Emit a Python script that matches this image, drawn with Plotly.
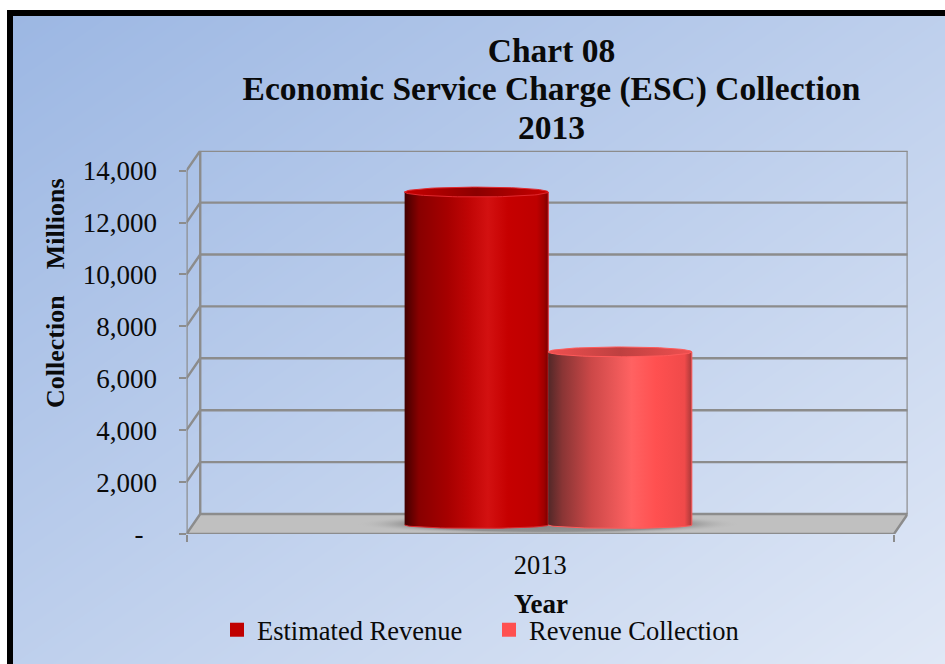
import numpy as np
import plotly.graph_objects as go

# Chart content
years = [2013]
series_names = ["Estimated Revenue", "Revenue Collection"]
estimated_revenue = [12830]
revenue_collection = [6670]
tick_values = [0, 2000, 4000, 6000, 8000, 10000, 12000, 14000]
tick_labels = ["-\u00a0\u00a0", "2,000", "4,000", "6,000", "8,000", "10,000", "12,000", "14,000"]

W, H = 945, 664
SERIF = "Liberation Serif"
GRID = "#8C8C8C"
INK = "#0A0A0A"

def px(x):
    return x / W

def py(y):
    return 1 - y / H

# Plot box: the front plane plus the pseudo-3D depth of the walls
X_LO, X_HI = 2012.5, 2013.5
DEPTH_X = 0.0194
Y_TOP = 14770
DEPTH_Y = 770
BASE = 347           # floor offset of the cylinders
BAR_W = 0.2030
BAR_SPLIT = 2013.0113
RY_TOP = 190
RY_BOTTOM = 130

RED_BODY = [[0, "#420000"], [0.1, "#880000"], [0.3, "#A60000"], [0.45, "#C00505"],
            [0.58, "#D31111"], [0.72, "#C60000"], [0.92, "#BE0000"], [0.97, "#A00000"], [1, "#780000"]]
RED_CAP = [[0, "#C80000"], [0.5, "#8C0000"], [1, "#C80000"]]
PINK_BODY = [[0, "#522828"], [0.1, "#8A3535"], [0.3, "#CC4848"], [0.58, "#FF6262"],
             [0.75, "#FF5050"], [0.95, "#F04A4A"], [1, "#A83838"]]
PINK_CAP = [[0, "#F05050"], [0.5, "#BE4040"], [1, "#F05050"]]

fig = go.Figure()

# Diagonal page background
fig.add_trace(go.Heatmap(
    x=[0, 1], y=[0, 1], z=[[0.5, 1], [0, 0.5]], zsmooth="best", zmin=0, zmax=1,
    colorscale=[[0, "#9CB7E3"], [1, "#E0E8F6"]], showscale=False, hoverinfo="skip",
    xaxis="x", yaxis="y",
))


def add_line(xs, ys, **kw):
    fig.add_trace(go.Scatter(x=xs, y=ys, mode="lines", line=dict(color=GRID, width=2.4), cliponaxis=False,
                             showlegend=False, hoverinfo="skip", xaxis="x2", yaxis="y2", **kw))


# Back wall: each gridline runs up the side wall and across the back
for v in tick_values[1:]:
    add_line([X_LO, X_LO + DEPTH_X, X_HI + DEPTH_X], [v, v + DEPTH_Y, v + DEPTH_Y])
add_line([X_LO + DEPTH_X, X_LO + DEPTH_X], [DEPTH_Y, Y_TOP])
add_line([X_HI + DEPTH_X, X_HI + DEPTH_X], [DEPTH_Y, Y_TOP])
add_line([X_LO, X_LO], [0, tick_values[-1]])

# Floor
fig.add_trace(go.Scatter(
    x=[X_LO, X_LO + DEPTH_X, X_HI + DEPTH_X, X_HI, X_LO],
    y=[0, DEPTH_Y, DEPTH_Y, 0, 0], mode="lines", fill="toself", fillcolor="#C0C0C0", cliponaxis=False,
    line=dict(color=GRID, width=2.4), showlegend=False, hoverinfo="skip", xaxis="x2", yaxis="y2",
))

# Soft contact shadow under the cylinders
theta = np.linspace(0, 2 * np.pi, 90)
fig.add_trace(go.Scatter(
    x=BAR_SPLIT + 0.272 * np.cos(theta), y=385 + 400 * np.sin(theta), mode="lines",
    fill="toself", line=dict(width=0), showlegend=False, hoverinfo="skip",
    fillgradient=dict(type="radial", colorscale=[[0, "rgba(125,125,125,0.9)"], [0.72, "rgba(125,125,125,0.7)"], [1, "rgba(192,192,192,0)"]]),
    xaxis="x2", yaxis="y2",
))


def add_cylinder(center, value, body, cap, edge):
    half = BAR_W / 2
    arc = np.linspace(np.pi, 2 * np.pi, 40)
    body_x = np.concatenate([[center - half, center + half], center + half * np.cos(arc[::-1])])
    body_y = np.concatenate([[BASE + value, BASE + value], BASE + RY_BOTTOM * np.sin(arc[::-1])])
    fig.add_trace(go.Scatter(
        x=body_x, y=body_y, mode="lines", fill="toself", fillgradient=dict(type="horizontal", colorscale=body),
        line=dict(color=edge, width=1), showlegend=False, hoverinfo="skip", xaxis="x2", yaxis="y2",
    ))
    fig.add_trace(go.Scatter(
        x=center + half * np.cos(theta), y=BASE + value + RY_TOP * np.sin(theta), mode="lines",
        fill="toself", fillgradient=dict(type="horizontal", colorscale=cap),
        line=dict(color=edge, width=1), showlegend=False, hoverinfo="skip", xaxis="x2", yaxis="y2",
    ))


add_cylinder(BAR_SPLIT - BAR_W / 2, estimated_revenue[0], RED_BODY, RED_CAP, "#E0282E")
add_cylinder(BAR_SPLIT + BAR_W / 2, revenue_collection[0], PINK_BODY, PINK_CAP, "#FF5A5A")

# Legend entries
for name, color in zip(series_names, ["#C00000", "#FF5050"]):
    fig.add_trace(go.Scatter(
        x=[None], y=[None], mode="markers", name=name,
        marker=dict(symbol="square", size=14, color=color), xaxis="x2", yaxis="y2",
    ))

fig.update_layout(
    width=W, height=H, margin=dict(l=0, r=0, t=0, b=0),
    paper_bgcolor="white", plot_bgcolor="rgba(0,0,0,0)",
    font=dict(family=SERIF, color=INK, size=27),
    title=dict(
        text='<span style="font-size:33.5px"><b>Chart 08<br>Economic Service Charge (ESC) Collection<br>2013</b></span>',
        x=px(551.5), xanchor="center", y=py(62), yanchor="top",
        font=dict(family=SERIF, size=29.6, color=INK),
    ),
    xaxis=dict(domain=[px(13), 1], range=[0, 1], visible=False),
    yaxis=dict(domain=[0, py(16)], range=[0, 1], visible=False),
    xaxis2=dict(
        domain=[px(186.5), px(907.7)], range=[X_LO, X_HI + DEPTH_X], anchor="y2", showgrid=False, zeroline=False,
        tickvals=years, ticktext=[str(y) for y in years], ticks="", ticklabelstandoff=12, automargin=False,
        minor=dict(tickvals=[X_LO, X_HI], ticks="outside", ticklen=7, tickwidth=2.4, tickcolor=GRID),
        tickfont=dict(size=26.5, family=SERIF, color=INK),
    ),
    yaxis2=dict(
        domain=[py(534), py(150.7)], range=[0, Y_TOP], anchor="x2", showgrid=False, zeroline=False, automargin=False,
        tickvals=tick_values, ticktext=tick_labels, ticks="outside", ticklen=7, tickwidth=2.4, tickcolor=GRID,
        ticklabelstandoff=16, tickfont=dict(size=27, family=SERIF, color=INK),
    ),
    legend=dict(
        orientation="h", x=px(217), xanchor="left", y=py(606), yanchor="top", bgcolor="rgba(0,0,0,0)",
        entrywidth=227, entrywidthmode="pixels", font=dict(size=26.5, family=SERIF, color=INK),
    ),
    annotations=[
        dict(text="<b>Collection\u00a0\u00a0\u00a0\u00a0Millions</b>", xref="paper", yref="paper", x=px(55.5), y=py(293.5),
             xanchor="center", yanchor="middle", textangle=-90, showarrow=False,
             font=dict(size=26, family=SERIF, color=INK)),
        dict(text="<b>Year</b>", xref="paper", yref="paper", x=px(540.5), y=py(604),
             xanchor="center", yanchor="middle", showarrow=False,
             font=dict(size=27, family=SERIF, color=INK)),
    ],
    shapes=[dict(type="rect", xref="paper", yref="paper", x0=px(10), y0=py(13), x1=px(965), y1=py(690),
                 line=dict(color="black", width=6), fillcolor="rgba(0,0,0,0)", layer="above")],
)

fig.write_html("out.html")
